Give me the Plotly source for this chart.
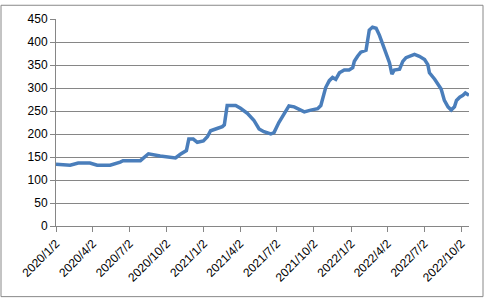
import plotly.graph_objects as go

dates = [
    "2020-01-02", "2020-02-06", "2020-02-26", "2020-03-26", "2020-04-13", "2020-05-15",
    "2020-06-09", "2020-06-16", "2020-07-29", "2020-08-18", "2020-09-16", "2020-10-24",
    "2020-11-05", "2020-11-20", "2020-11-26", "2020-12-07", "2020-12-17", "2021-01-01",
    "2021-01-11", "2021-01-19", "2021-02-04", "2021-02-17", "2021-02-22", "2021-03-01",
    "2021-03-22", "2021-04-03", "2021-04-20", "2021-05-06", "2021-05-19", "2021-05-31",
    "2021-06-17", "2021-06-25", "2021-07-07", "2021-07-20", "2021-08-01", "2021-08-14",
    "2021-08-30", "2021-09-08", "2021-09-24", "2021-10-11", "2021-10-19", "2021-10-27",
    "2021-10-31", "2021-11-09", "2021-11-17", "2021-11-25", "2021-12-04", "2021-12-16",
    "2021-12-28", "2022-01-06", "2022-01-10", "2022-01-18", "2022-01-26", "2022-02-08",
    "2022-02-12", "2022-02-16", "2022-02-24", "2022-03-05", "2022-03-13", "2022-03-21",
    "2022-03-30", "2022-04-07", "2022-04-13", "2022-04-19", "2022-05-02", "2022-05-10",
    "2022-05-18", "2022-06-08", "2022-06-20", "2022-07-03", "2022-07-11", "2022-07-15",
    "2022-07-28", "2022-08-05", "2022-08-13", "2022-08-21", "2022-08-30", "2022-09-07",
    "2022-09-15", "2022-09-20", "2022-09-28", "2022-10-06", "2022-10-12", "2022-10-21",
]
values = [
    134, 132, 137, 137, 132, 132,
    139, 142, 142, 157, 152, 148,
    156, 164, 189, 189, 182, 185,
    194, 207, 212, 216, 220, 262,
    262, 256, 245, 230, 211, 205,
    200, 203, 225, 244, 261, 259,
    252, 248, 252, 255, 262, 284,
    301, 316, 323, 319, 333, 339,
    339, 344, 358, 369, 378, 382,
    405, 426, 432, 430, 415, 394,
    376, 355, 330, 339, 341, 358,
    366, 373, 369, 362, 351, 333,
    319, 308, 298, 273, 259, 252,
    259, 273, 280, 284, 289, 284,
]
tick_dates = ["2020-01-02", "2020-04-02", "2020-07-02", "2020-10-02", "2021-01-02",
              "2021-04-02", "2021-07-02", "2021-10-02", "2022-01-02", "2022-04-02",
              "2022-07-02", "2022-10-02"]
tick_labels = ["2020/1/2", "2020/4/2", "2020/7/2", "2020/10/2", "2021/1/2", "2021/4/2",
               "2021/7/2", "2021/10/2", "2022/1/2", "2022/4/2", "2022/7/2", "2022/10/2"]
y_ticks = [0, 50, 100, 150, 200, 250, 300, 350, 400, 450]

fig = go.Figure()
fig.add_trace(go.Scatter(x=dates, y=values, mode="lines",
                         line=dict(color="#4A7EBB", width=3.5), hoverinfo="skip"))

W, H = 484, 300
ml, mr, mt, mb = 56, 15, 15, 74
pw, ph = W - ml - mr, H - mt - mb

fig.update_layout(
    width=W, height=H,
    margin=dict(l=ml, r=mr, t=mt, b=mb),
    paper_bgcolor="white", plot_bgcolor="white",
    showlegend=False,
    font=dict(family="Liberation Sans, Arial, sans-serif", size=12, color="black"),
    xaxis=dict(type="date", range=["2020-01-02", "2022-10-21"],
               tickmode="array", tickvals=tick_dates, ticktext=tick_labels,
               tickangle=-45, showgrid=False, showline=True, linecolor="#868686",
               linewidth=1, ticks="outside", ticklen=5, tickcolor="#868686",
               zeroline=False, tickfont=dict(size=12)),
    yaxis=dict(range=[0, 450], tickmode="array", tickvals=y_ticks,
               showgrid=True, gridcolor="#868686", gridwidth=1,
               showline=True, linecolor="#868686", linewidth=1,
               ticks="outside", ticklen=5, tickcolor="#868686",
               zeroline=False, tickfont=dict(size=12)),
    shapes=[dict(type="rect", xref="paper", yref="paper",
                 x0=(1 - ml) / pw, x1=(483 - ml) / pw,
                 y0=(H - mb - 298) / ph, y1=(H - mb - 1) / ph,
                 line=dict(color="#888888", width=1), fillcolor="rgba(0,0,0,0)",
                 layer="below")],
)

fig.write_html("out.html")
